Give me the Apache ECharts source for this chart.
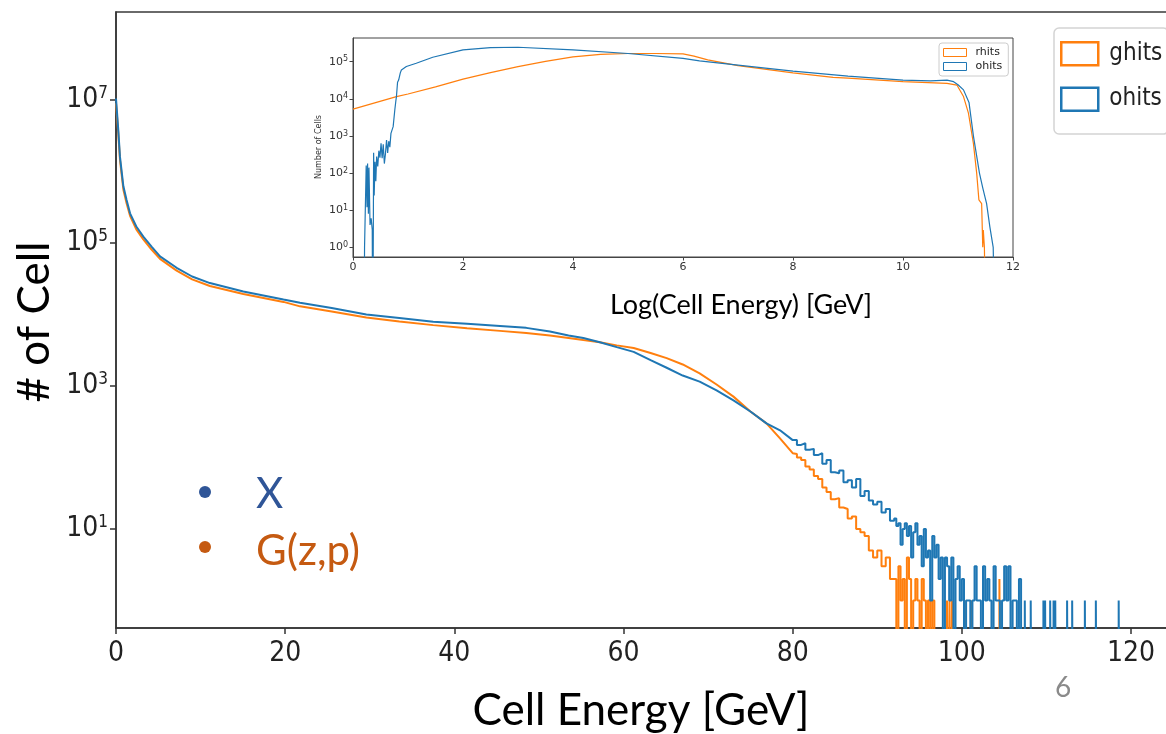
<!DOCTYPE html>
<html><head><meta charset="utf-8">
<script src="https://cdn.jsdelivr.net/npm/echarts@6/dist/echarts.min.js"></script>
<style>html,body{margin:0;padding:0;background:#fff}#c{width:1166px;height:734px}</style>
</head><body><div id="c"></div>
<script>
// ---------- main histogram: Cell Energy [GeV] vs # of Cell ----------
const mainEnergy = [0, 0.27, 0.47, 0.87, 1.25, 1.66, 2.4, 3.23, 4.2, 5.2, 7.17, 9, 11.1, 15.05, 19.8, 21.75, 25.5, 29.6, 33.5, 37.5, 41.5, 45.4, 48.5, 51.3, 53.5, 55.25, 57.2, 59.2, 61.2, 63.2, 65.1, 67, 69, 71, 73, 75, 76.9, 78.5, 80];
const ohitsSmooth = [1.05e7, 3.8e6, 1.6e6, 6.2e5, 4.0e5, 2.6e5, 1.7e5, 1.23e5, 8.9e4, 6.5e4, 4.5e4, 3.4e4, 2.75e4, 2.1e4, 1.62e4, 1.46e4, 1.23e4, 1.0e4, 8.9e3, 7.9e3, 7.4e3, 6.9e3, 6.5e3, 5.8e3, 5.1e3, 4.7e3, 4.1e3, 3.5e3, 3.0e3, 2.3e3, 1.8e3, 1.4e3, 1.15e3, 870, 630, 440, 300, 240, 175];
const ghitsSmooth = [9.0e6, 3.4e6, 1.45e6, 5.6e5, 3.6e5, 2.4e5, 1.55e5, 1.12e5, 8.1e4, 6.0e4, 4.1e4, 3.1e4, 2.5e4, 1.93e4, 1.5e4, 1.3e4, 1.1e4, 9.1e3, 8.0e3, 7.1e3, 6.4e3, 5.9e3, 5.5e3, 5.1e3, 4.7e3, 4.4e3, 4.1e3, 3.7e3, 3.4e3, 2.9e3, 2.45e3, 2.0e3, 1.5e3, 1.05e3, 710, 440, 300, 185, 115];
// coarse tail bins: 80 .. 92 GeV, 0.5 GeV wide
const coarseBinLeft = 80, coarseBinWidth = 0.5;
const ohitsCoarse = [175, 150, 158, 128, 132, 108, 115, 82, 92, 62, 60, 66, 45, 48, 38, 50, 29, 34, 25, 22, 24, 17, 19, 13];
const ghitsCoarse = [112, 100, 92, 75, 68, 55, 50, 38, 33, 26, 27, 20, 19, 14, 15, 10, 9, 8, 5, 4, 5, 3, 4, 2];
// fine tail bins from 92 GeV, 0.25 GeV wide
const fineBinLeft = 92, fineBinWidth = 0.25;
const ohitsFine = [14, 11, 12, 6, 10, 12, 8, 11, 4, 9, 12, 6,
                   8, 3, 10, 4, 5, 1, 8, 4, 6, 2, 4, 0,
                   4, 3, 1, 4, 0, 2, 3, 1, 2, 0, 1, 1,
                   0, 1, 3, 1, 1, 0, 3, 1, 2, 1, 0, 3,
                   1, 1, 0, 1, 3, 1, 3, 0, 1, 1, 0, 2];
const ghitsFine = [2, 0, 3, 1, 2, 0, 4, 2, 0, 1, 2, 1, 0, 2, 1, 0, 1, 0, 1, 0];
// isolated single bins in the far tail
const ohitsSpikeE = [107.5, 108.2, 109.7, 109.9, 110.5, 110.9, 111.1, 112.5, 113.1, 114.6, 115.9, 118.6];
const ohitsSpikeN = [1, 1, 1, 1, 1, 1, 1, 1, 1, 1, 1, 1];
const ghitsSpikeE = [98.3, 98.6, 98.9, 100.4, 101.2, 104.5];
const ghitsSpikeN = [1, 1, 1, 1, 1, 2];
const mainXTicks = [0, 20, 40, 60, 80, 100, 120];
const mainYExp = [1, 3, 5, 7];

// ---------- inset: Log(Cell Energy) [GeV] vs Number of Cells ----------
const rhitsLogE = [0, 0.79, 1.0, 1.5, 2.0, 2.5, 3.0, 3.5, 4.0, 4.5, 5.0, 5.5, 6.0, 6.2, 6.45, 6.88, 7.0, 8.0, 8.73, 9.0, 10.0, 10.8, 10.98, 11.1, 11.19, 11.28, 11.34, 11.38, 11.43, 11.45, 11.46, 11.48, 11.5, 11.51];
const rhitsCount = [5250, 11500, 13500, 21000, 34000, 51000, 74000, 102000, 135000, 158000, 166000, 166000, 162000, 141000, 112000, 85000, 78000, 50000, 38000, 36000, 29000, 26000, 23500, 11500, 4100, 630, 98, 19, 15, 1, 2.9, 1, 1, 0];
const ohitsLogE = [0.20, 0.21, 0.235, 0.24, 0.255, 0.265, 0.28, 0.29, 0.31, 0.33, 0.35, 0.36, 0.375, 0.385, 0.40, 0.415, 0.43, 0.45, 0.47, 0.49, 0.51, 0.53, 0.55, 0.57, 0.59, 0.61, 0.63, 0.65, 0.67, 0.69, 0.71, 0.73, 0.76, 0.78, 0.79, 0.81, 0.83, 0.86, 0.88, 0.97, 1.15, 1.45, 2.0, 2.5, 3.0, 4.0, 5.0, 6.0, 6.3, 7.0, 8.0, 9.0, 10.0, 10.5, 10.8, 10.92, 11.0, 11.1, 11.2, 11.28, 11.39, 11.45, 11.52, 11.58, 11.64, 11.68];
const ohitsLogCount = [0, 1, 1, 160, 12, 180, 8, 140, 4, 6, 3, 0, 350, 25, 200, 60, 280, 150, 400, 260, 630, 250, 600, 180, 330, 780, 350, 720, 500, 1170, 1200, 1780, 5000, 9000, 11500, 28000, 32000, 50000, 60000, 74000, 91000, 132000, 209000, 240000, 245000, 209000, 166000, 123000, 105000, 81000, 56000, 41000, 32000, 30500, 32000, 29000, 24000, 17400, 8000, 1000, 100, 40, 15, 3.5, 1, 0];
const insetXTicks = [0, 2, 4, 6, 8, 10, 12];
const insetYExp = [0, 1, 2, 3, 4, 5];

// ---------- helpers ----------
const FLOOR = -3;
const lg = c => (c > 0 ? Math.log10(c) : FLOOR);
function smoothPath(xs, ys) { return xs.map((x, i) => [x, lg(ys[i])]); }
function stepPath(left, width, counts) {
  const pts = [];
  counts.forEach((c, i) => { const x0 = left + i * width; pts.push([x0, lg(c)], [x0 + width, lg(c)]); });
  return pts;
}
function spikePath(es, ns, w) {
  const pts = [];
  es.forEach((e, i) => {
    pts.push([e - w / 2, FLOOR], [e - w / 2, lg(ns[i])], [e + w / 2, lg(ns[i])], [e + w / 2, FLOOR]);
  });
  return pts;
}
function buildMain(smooth, coarse, fine, spE, spN) {
  let pts = smoothPath(mainEnergy, smooth);
  pts = pts.concat(stepPath(coarseBinLeft, coarseBinWidth, coarse));
  pts = pts.concat(stepPath(fineBinLeft, fineBinWidth, fine));
  const endX = fineBinLeft + fine.length * fineBinWidth;
  pts.push([endX, FLOOR]);
  return pts.concat(spikePath(spE, spN, 0.12));
}

const ORANGE = '#ff7f0e', BLUE = '#1f77b4';
const NARROW = "'Liberation Sans Narrow','DejaVu Sans Condensed','Roboto Condensed',sans-serif";
const SLIDE = "Lato, 'Open Sans', sans-serif";
const supFmt = v => '{b|10}{s|' + v + '}';

const chart = echarts.init(document.getElementById('c'), null, {renderer: 'canvas'});
chart.setOption({
  animation: false,
  backgroundColor: '#fff',
  grid: [
    {left: 116, top: 12, right: -2, bottom: 106, show: true, borderColor: '#3a3a3a', borderWidth: 1.5, backgroundColor: 'transparent', outerBoundsMode: 'none'},
    {left: 353, top: 38, right: 153, bottom: 477, show: true, borderColor: '#444', borderWidth: 1, backgroundColor: '#fff', outerBoundsMode: 'none'}
  ],
  xAxis: [
    {type: 'value', gridIndex: 0, min: 0, max: 124.37,
     axisLine: {show: true, onZero: false, lineStyle: {color: '#333', width: 1.5}},
     axisTick: {show: true, length: 6, customValues: mainXTicks, lineStyle: {color: '#333', width: 1.5}},
     axisLabel: {customValues: mainXTicks, fontSize: 28, fontFamily: NARROW, color: '#222', margin: 12},
     splitLine: {show: false}},
    {type: 'value', gridIndex: 1, min: 0, max: 12,
     axisLine: {show: true, onZero: false, lineStyle: {color: '#444', width: 1}},
     axisTick: {show: true, length: 3.5, customValues: insetXTicks, lineStyle: {color: '#444', width: 1}},
     axisLabel: {customValues: insetXTicks, fontSize: 11, fontFamily: 'DejaVu Sans', color: '#333', margin: 5},
     splitLine: {show: false}}
  ],
  yAxis: [
    {type: 'value', gridIndex: 0, min: -0.385, max: 8.231,
     axisLine: {show: true, onZero: false, lineStyle: {color: '#333', width: 1.5}},
     axisTick: {show: true, length: 6, customValues: mainYExp, lineStyle: {color: '#333', width: 1.5}},
     axisLabel: {customValues: mainYExp, formatter: supFmt, margin: 8, color: '#222',
       rich: {b: {fontSize: 28, fontFamily: NARROW, color: '#222', lineHeight: 30},
              s: {fontSize: 17, fontFamily: NARROW, color: '#222', lineHeight: 17, verticalAlign: 'top'}}},
     splitLine: {show: false}},
    {type: 'value', gridIndex: 1, min: -0.261, max: 5.638,
     axisLine: {show: true, onZero: false, lineStyle: {color: '#444', width: 1}},
     axisTick: {show: true, length: 3.5, customValues: insetYExp, lineStyle: {color: '#444', width: 1}},
     axisLabel: {customValues: insetYExp, formatter: supFmt, margin: 5, color: '#333',
       rich: {b: {fontSize: 11, fontFamily: 'DejaVu Sans', color: '#333', lineHeight: 13},
              s: {fontSize: 8, fontFamily: 'DejaVu Sans', color: '#333', lineHeight: 8, verticalAlign: 'top'}}},
     splitLine: {show: false}}
  ],
  legend: [
    {orient: 'vertical', left: 1054, top: 28, icon: 'rect', itemWidth: 37, itemHeight: 23, itemGap: 20,
     padding: [13, 6, 22, 6], backgroundColor: '#fff', borderColor: '#d4d4d4', borderWidth: 1.5, borderRadius: 5,
     textStyle: {fontSize: 24, fontFamily: NARROW, color: '#222', padding: [0, 0, 0, 6]},
     selectedMode: false,
     data: [{name: 'ghits', itemStyle: {color: '#fff', borderColor: ORANGE, borderWidth: 2.5}},
            {name: 'ohits', itemStyle: {color: '#fff', borderColor: BLUE, borderWidth: 2.5}}]},
    {orient: 'vertical', left: 939, top: 43, icon: 'rect', itemWidth: 23, itemHeight: 8, itemGap: 3,
     padding: [4, 6, 4, 4], backgroundColor: '#fff', borderColor: '#ccc', borderWidth: 1, borderRadius: 3,
     textStyle: {fontSize: 11, fontFamily: 'DejaVu Sans', color: '#222', padding: [0, 0, 0, 4]},
     selectedMode: false,
     data: [{name: 'rhits', itemStyle: {color: '#fff', borderColor: ORANGE, borderWidth: 1}},
            {name: 'ohits', itemStyle: {color: '#fff', borderColor: BLUE, borderWidth: 1}}]}
  ],
  series: [
    {name: 'ghits', type: 'line', xAxisIndex: 0, yAxisIndex: 0, symbol: 'none', clip: true,
     color: ORANGE, lineStyle: {color: ORANGE, width: 2},
     data: buildMain(ghitsSmooth, ghitsCoarse, ghitsFine, ghitsSpikeE, ghitsSpikeN)},
    {name: 'ohits', type: 'line', xAxisIndex: 0, yAxisIndex: 0, symbol: 'none', clip: true,
     color: BLUE, lineStyle: {color: BLUE, width: 2},
     data: buildMain(ohitsSmooth, ohitsCoarse, ohitsFine, ohitsSpikeE, ohitsSpikeN)},
    {name: 'rhits', type: 'line', xAxisIndex: 1, yAxisIndex: 1, symbol: 'none', clip: true,
     color: ORANGE, lineStyle: {color: ORANGE, width: 1.2},
     data: smoothPath(rhitsLogE, rhitsCount)},
    {name: 'ohits', type: 'line', xAxisIndex: 1, yAxisIndex: 1, symbol: 'none', clip: true,
     color: BLUE, lineStyle: {color: BLUE, width: 1.2},
     data: smoothPath(ohitsLogE, ohitsLogCount)}
  ],
  graphic: [
    {type: 'text', x: 35, y: 322, rotation: Math.PI / 2,
     style: {text: '# of Cell', font: '44px ' + SLIDE, fill: '#000', align: 'center', verticalAlign: 'middle'}},
    {type: 'text', x: 641, y: 711,
     style: {text: 'Cell Energy [GeV]', font: '44px ' + SLIDE, fill: '#000', align: 'center', verticalAlign: 'middle'}},
    {type: 'text', x: 741, y: 305,
     style: {text: 'Log(Cell Energy) [GeV]', font: '27px ' + SLIDE, fill: '#000', align: 'center', verticalAlign: 'middle'}},
    {type: 'text', x: 319, y: 147, rotation: Math.PI / 2,
     style: {text: 'Number of Cells', font: "8px 'DejaVu Sans'", fill: '#333', align: 'center', verticalAlign: 'middle'}},
    {type: 'circle', shape: {cx: 205, cy: 492, r: 6}, style: {fill: '#2F5597'}},
    {type: 'circle', shape: {cx: 205, cy: 547, r: 6}, style: {fill: '#C55A11'}},
    {type: 'text', x: 256, y: 494,
     style: {text: 'X', font: '42px ' + SLIDE, fill: '#2F5597', align: 'left', verticalAlign: 'middle'}},
    {type: 'text', x: 256, y: 551,
     style: {text: 'G(z,p)', font: '42px ' + SLIDE, fill: '#C55A11', align: 'left', verticalAlign: 'middle'}},
    {type: 'text', x: 1063, y: 688,
     style: {text: '6', font: '28px ' + SLIDE, fill: '#8a8a8a', align: 'center', verticalAlign: 'middle'}}
  ]
});
</script></body></html>
